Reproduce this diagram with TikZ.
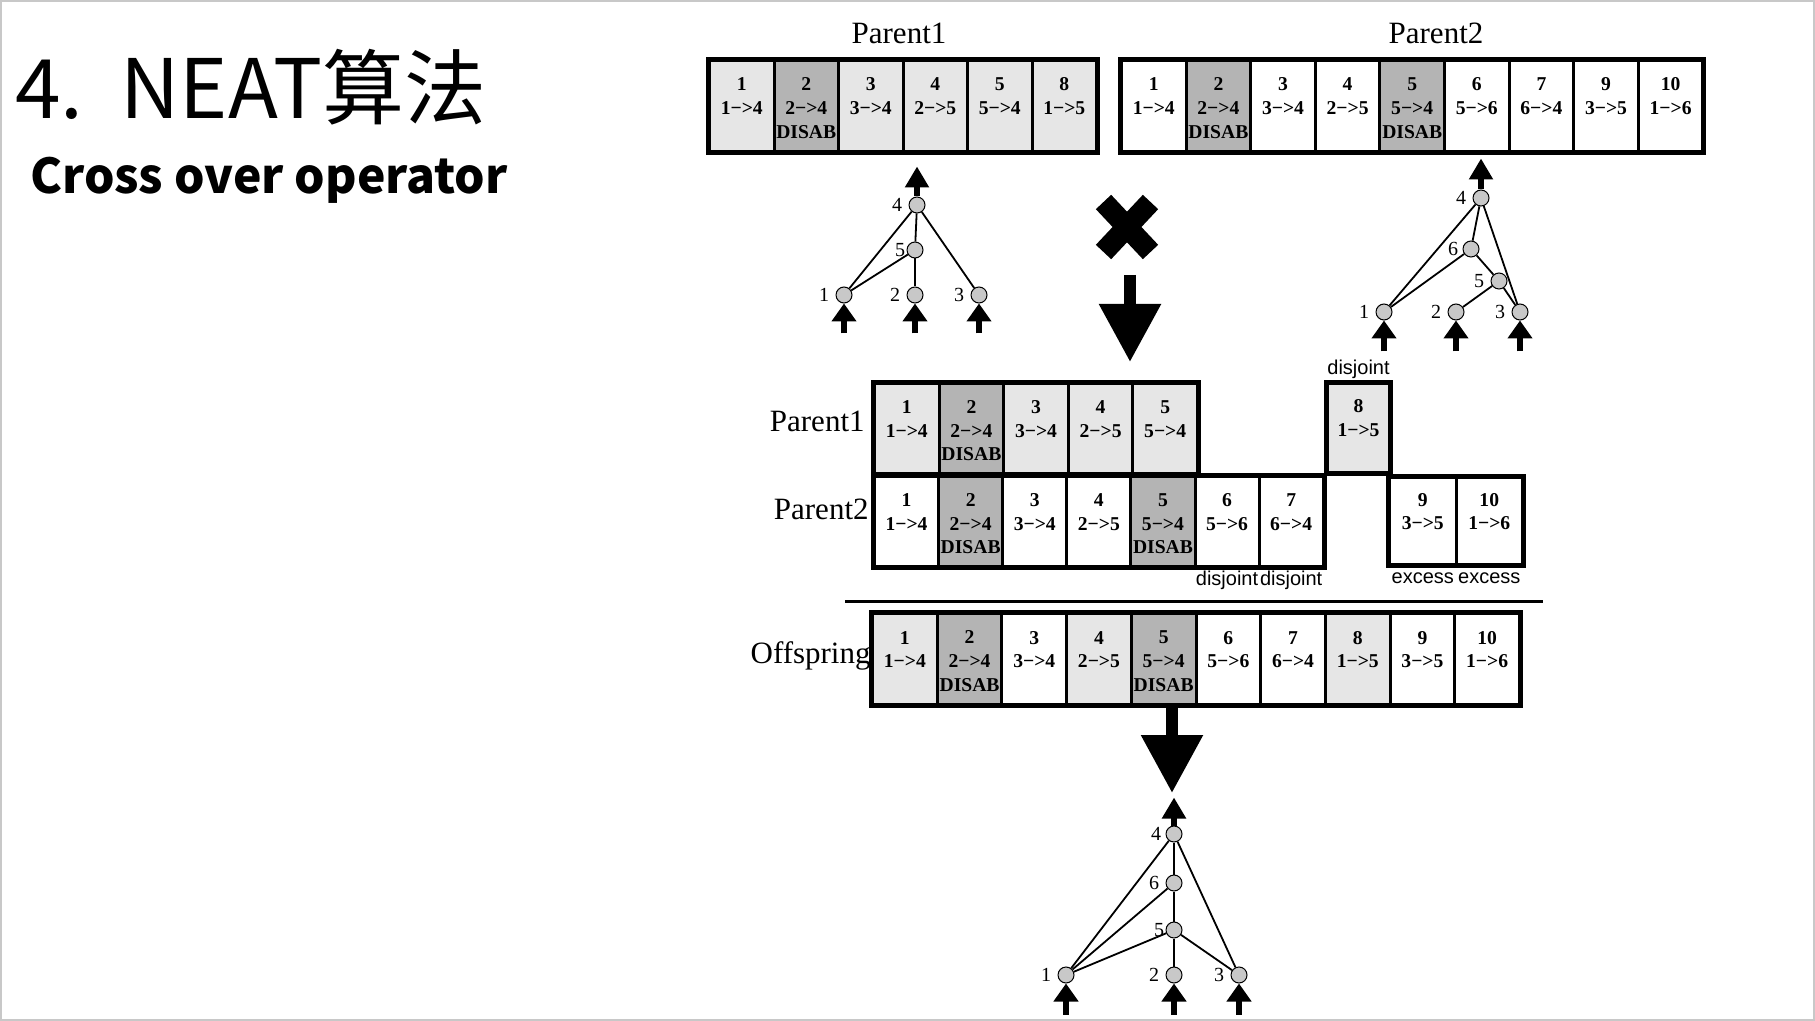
\documentclass[tikz,border=0pt]{standalone}
\usepackage{fontspec}
\setmainfont{Liberation Serif}
\newfontfamily\sansf{Liberation Sans}
\newfontfamily\cjkf{Noto Sans CJK SC}
\usetikzlibrary{arrows.meta}

\definecolor{lg}{HTML}{E6E6E6}
\definecolor{dg}{HTML}{B4B4B4}
\definecolor{ng}{HTML}{C8C8C8}
\definecolor{framec}{HTML}{C8C8C8}

\newcommand\genefont{\bfseries\fontsize{9.8}{11.8}\selectfont}

\tikzset{
  gene/.style={draw=black, line width=1.5pt, anchor=north west, inner sep=0pt,
    align=center, font=\genefont},
  genebox/.style={draw=black, line width=2pt},
  nn/.style={circle, draw=black, fill=ng, line width=0.5pt, minimum size=8pt, inner sep=0pt},
  nlab/.style={font=\fontsize{10}{11}\selectfont, inner sep=0.5pt},
  edge/.style={line width=0.9pt},
  outarr/.style={line width=2.8pt, -{Triangle[width=11.5pt,length=10.5pt]}},
  inarr/.style={line width=2.8pt, -{Triangle[width=12pt,length=9pt]}},
  bigarr/.style={line width=6pt, -{Triangle[width=29.5pt,length=29pt]}},
  plab/.style={font=\fontsize{15.5}{16}\selectfont, inner sep=0pt},
  slab/.style={font=\sansf\fontsize{10}{11}\selectfont, inner sep=0pt},
}

% #1 prefix, #2 x0, #3 y0, #4 cell width, #5 cell height, #6 cells
\newcommand{\genome}[6]{%
  \foreach [count=\gi] \gf/\gn/\gc/\gd in {#6} {%
    \node[gene, fill=\gf, minimum width={#4*0.5pt}, minimum height={#5*0.5pt}]
      (#1-\gi) at ({#2+(\gi-1)*#4},#3) {\rule{0pt}{8.6pt}\gn\\\gc\\\gd};
  }%
}

\begin{document}
\begin{tikzpicture}[x=0.5pt,y=-0.5pt,label distance=2.5pt]
\useasboundingbox (0,0) rectangle (1815,1021);
\draw[framec, line width=1pt] (1,1) rectangle (1814,1020);

% titles
\node[anchor=base west, inner sep=0pt, font=\cjkf\fontsize{41}{42}\selectfont] (title) at (15,119) {4.\hspace{18.5pt}NEAT算法};
\node[anchor=base west, inner sep=0pt, font=\cjkf\bfseries\fontsize{24}{26}\selectfont] (subtitle) at (30,194) {Cross over operator};

% top genomes
\node[plab, anchor=base] (t1) at (899,44) {Parent1};
\genome{p1}{708}{59}{64.5}{91}{lg/1/1−>4/~, dg/2/2−>4/DISAB, lg/3/3−>4/~, lg/4/2−>5/~, lg/5/5−>4/~, lg/8/1−>5/~}
\draw[genebox] (p1-1.north west) rectangle (p1-6.south east);

\node[plab, anchor=base] (t2) at (1436,44) {Parent2};
\genome{p2}{1120}{59}{64.6}{91}{white/1/1−>4/~, dg/2/2−>4/DISAB, white/3/3−>4/~, white/4/2−>5/~, dg/5/5−>4/DISAB, white/6/5−>6/~, white/7/6−>4/~, white/9/3−>5/~, white/10/1−>6/~}
\draw[genebox] (p2-1.north west) rectangle (p2-9.south east);

% network of parent 1
\node[nn, label={[nlab]left:4}] (a4) at (917,205) {};
\node[nn, label={[nlab,xshift=2.5pt]left:5}] (a5) at (915,250) {};
\node[nn, label={[nlab]left:1}] (a1) at (844,295) {};
\node[nn, label={[nlab]left:2}] (a2) at (915,295) {};
\node[nn, label={[nlab]left:3}] (a3) at (979,295) {};
\draw[edge] (a4) -- (a1);
\draw[edge] (a4) -- (a5);
\draw[edge] (a4) -- (a3);
\draw[edge] (a5) -- (a1);
\draw[edge] (a5) -- (a2);
\draw[outarr] (a4.north) -- ([yshift=15pt]a4.north);
\foreach \n in {a1,a2,a3} \draw[inarr] ([yshift=-15pt]\n.south) -- (\n.south);

% network of parent 2
\node[nn, label={[nlab]left:4}] (b4) at (1481,198) {};
\node[nn, label={[nlab,xshift=1pt]left:6}] (b6) at (1471,249) {};
\node[nn, label={[nlab]left:5}] (b5) at (1499,281) {};
\node[nn, label={[nlab]left:1}] (b1) at (1384,312) {};
\node[nn, label={[nlab]left:2}] (b2) at (1456,312) {};
\node[nn, label={[nlab]left:3}] (b3) at (1520,312) {};
\draw[edge] (b4) -- (b1);
\draw[edge] (b4) -- (b6);
\draw[edge] (b4) -- (b3);
\draw[edge] (b6) -- (b1);
\draw[edge] (b6) -- (b5);
\draw[edge] (b5) -- (b2);
\draw[edge] (b5) -- (b3);
\draw[outarr] (b4.north) -- ([yshift=15.5pt]b4.north);
\foreach \n in {b1,b2,b3} \draw[inarr] ([yshift=-15.5pt]\n.south) -- (\n.south);

% cross and arrow
\coordinate (xc) at (1127,227);
\draw[line width=10.5pt] (1103.5,202) -- (1150.5,252);
\draw[line width=10.5pt] (1150.5,202) -- (1103.5,252);
\coordinate (d1s) at (1130,275);
\coordinate (d1e) at (1130,362);
\draw[bigarr] (d1s) -- (d1e);

% aligned genomes
\node[plab, anchor=base east] (m1) at (865,432) {Parent1};
\genome{q1}{873}{382}{64.6}{90}{lg/1/1−>4/~, dg/2/2−>4/DISAB, lg/3/3−>4/~, lg/4/2−>5/~, lg/5/5−>4/~}
\draw[genebox] (q1-1.north west) rectangle (q1-5.south east);

\genome{q8}{1326}{382}{62}{89}{lg/8/1−>5/~}
\draw[genebox] (q8-1.north west) rectangle (q8-1.south east);
\node[slab, anchor=base] (dj0) at (q8-1.north |- 0,375) {disjoint};

\node[plab, anchor=base east] (m2) at (869,519) {Parent2};
\genome{q2}{873}{475}{64.1}{90}{white/1/1−>4/~, dg/2/2−>4/DISAB, white/3/3−>4/~, white/4/2−>5/~, dg/5/5−>4/DISAB, white/6/5−>6/~, white/7/6−>4/~}
\draw[genebox] (q2-1.north west) rectangle (q2-7.south east);
\node[slab, anchor=base] (dj6) at (q2-6.south |- 0,585) {disjoint};
\node[slab, anchor=base] (dj7) at (q2-7.south |- 0,585) {disjoint};

\genome{q9}{1388}{476}{66.5}{87}{white/9/3−>5/~, white/10/1−>6/~}
\draw[genebox] (q9-1.north west) rectangle (q9-2.south east);
\node[slab, anchor=base] (ex9) at (q9-1.south |- 0,583) {excess};
\node[slab, anchor=base] (ex10) at (q9-2.south |- 0,583) {excess};

% separator line
\coordinate (hl) at (845,601);
\coordinate (hr) at (1543,601);
\draw[line width=1.5pt] (hl) -- (hr);

% offspring
\node[plab, anchor=base east] (off) at (871,663) {Offspring};
\genome{o}{871}{612}{64.7}{91}{lg/1/1−>4/~, dg/2/2−>4/DISAB, white/3/3−>4/~, lg/4/2−>5/~, dg/5/5−>4/DISAB, white/6/5−>6/~, white/7/6−>4/~, lg/8/1−>5/~, white/9/3−>5/~, white/10/1−>6/~}
\draw[genebox] (o-1.north west) rectangle (o-10.south east);

\coordinate (d2s) at (1172,708);
\coordinate (d2e) at (1172,793);
\draw[bigarr] (d2s) -- (d2e);

% offspring network
\node[nn, label={[nlab,xshift=1pt]left:4}] (c4) at (1174,834) {};
\node[nn, label={[nlab]left:6}] (c6) at (1174,883) {};
\node[nn, label={[nlab,xshift=2.5pt]left:5}] (c5) at (1174,930) {};
\node[nn, label={[nlab]left:1}] (c1) at (1066,975) {};
\node[nn, label={[nlab]left:2}] (c2) at (1174,975) {};
\node[nn, label={[nlab]left:3}] (c3) at (1239,975) {};
\draw[edge] (c4) -- (c1);
\draw[edge] (c4) -- (c6);
\draw[edge] (c4) -- (c3);
\draw[edge] (c6) -- (c1);
\draw[edge] (c6) -- (c5);
\draw[edge] (c5) -- (c1);
\draw[edge] (c5) -- (c2);
\draw[edge] (c5) -- (c3);
\draw[outarr] (c4.north) -- ([yshift=14pt]c4.north);
\foreach \n in {c1,c2,c3} \draw[inarr] ([yshift=-15.5pt]\n.south) -- (\n.south);
\end{tikzpicture}
\end{document}
